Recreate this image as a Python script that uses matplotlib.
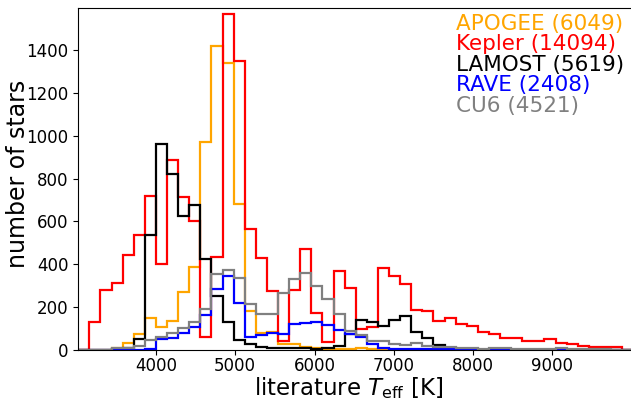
import numpy as np
import matplotlib
matplotlib.use("Agg")
import matplotlib.pyplot as plt

# bin edges of the Teff histograms (140 K wide)
bin_edges = np.arange(3020, 10021, 140)

# counts per bin
apogee = [0, 0, 2, 10, 33, 75, 148, 109, 135, 272,
          386, 969, 1419, 1338, 681, 183, 80, 85, 30, 27,
          16, 9, 5, 4, 4, 8, 6, 2, 0, 0,
          0, 0, 0, 0, 0, 0, 0, 0, 0, 0,
          0, 0, 0, 0, 0, 0, 0, 0, 0, 0]
kepler = [0, 132, 280, 311, 443, 537, 719, 401, 887, 713,
          603, 59, 432, 1568, 1349, 563, 431, 275, 43, 280,
          472, 172, 37, 370, 291, 97, 109, 384, 345, 306,
          187, 182, 137, 149, 121, 112, 84, 76, 55, 55,
          40, 40, 51, 34, 28, 19, 16, 16, 12, 2]
lamost = [0, 0, 0, 3, 10, 50, 537, 960, 821, 627,
          677, 425, 250, 130, 45, 30, 16, 7, 10, 11,
          8, 4, 8, 20, 75, 140, 129, 112, 140, 160,
          84, 57, 22, 10, 5, 4, 2, 2, 2, 2,
          1, 1, 1, 1, 0, 0, 0, 0, 0, 0]
rave = [0, 0, 0, 0, 0, 0, 3, 53, 57, 80,
        106, 163, 283, 345, 218, 60, 72, 81, 75, 121,
        126, 132, 115, 95, 74, 62, 28, 7, 4, 3,
        3, 3, 3, 3, 3, 2, 2, 2, 2, 2,
        2, 2, 2, 2, 2, 2, 2, 2, 2, 2]
cu6 = [0, 0, 0, 10, 10, 20, 47, 62, 78, 101,
       130, 190, 355, 375, 335, 216, 167, 167, 267, 330,
       361, 299, 237, 168, 89, 70, 41, 41, 28, 25,
       31, 20, 16, 16, 11, 11, 5, 8, 7, 6,
       4, 4, 6, 7, 4, 3, 3, 3, 2, 2]

labels = ["APOGEE (6049)", "Kepler (14094)", "LAMOST (5619)", "RAVE (2408)", "CU6 (4521)"]
colors = ["orange", "red", "black", "blue", "grey"]
series = [apogee, kepler, lamost, rave, cu6]

fig = plt.figure(figsize=(6.31, 4.01), dpi=100)
ax = fig.add_axes([0.124, 0.1272, 0.8796, 0.852])

for counts, col in zip(series, colors):
    ax.stairs(counts, bin_edges, color=col, lw=1.6)

ax.set_xlim(3020, 10020)
ax.set_ylim(0, 1594)
ax.set_xticks([4000, 5000, 6000, 7000, 8000, 9000])
ax.set_yticks(range(0, 1401, 200))
ax.tick_params(labelsize=12)
ax.tick_params(axis="x", pad=1.5)
ax.set_xlabel(r"literature $T_{\rm eff}$ [K]", fontsize=16.5)
ax.set_ylabel("number of stars", fontsize=17)
ax.xaxis.set_label_coords(0.487, -0.131)
ax.xaxis.label.set_va("baseline")
ax.yaxis.set_label_coords(-0.109, 0.515)
ax.yaxis.label.set_va("center")

# coloured text legend in the upper right
for k, (lab, col) in enumerate(zip(labels, colors)):
    fig.text(0.722, 1 - (24 + 20.5 * k) / 401, lab, color=col,
             fontsize=15.5, va="center", ha="left")

fig.savefig("out.png", dpi=100)
